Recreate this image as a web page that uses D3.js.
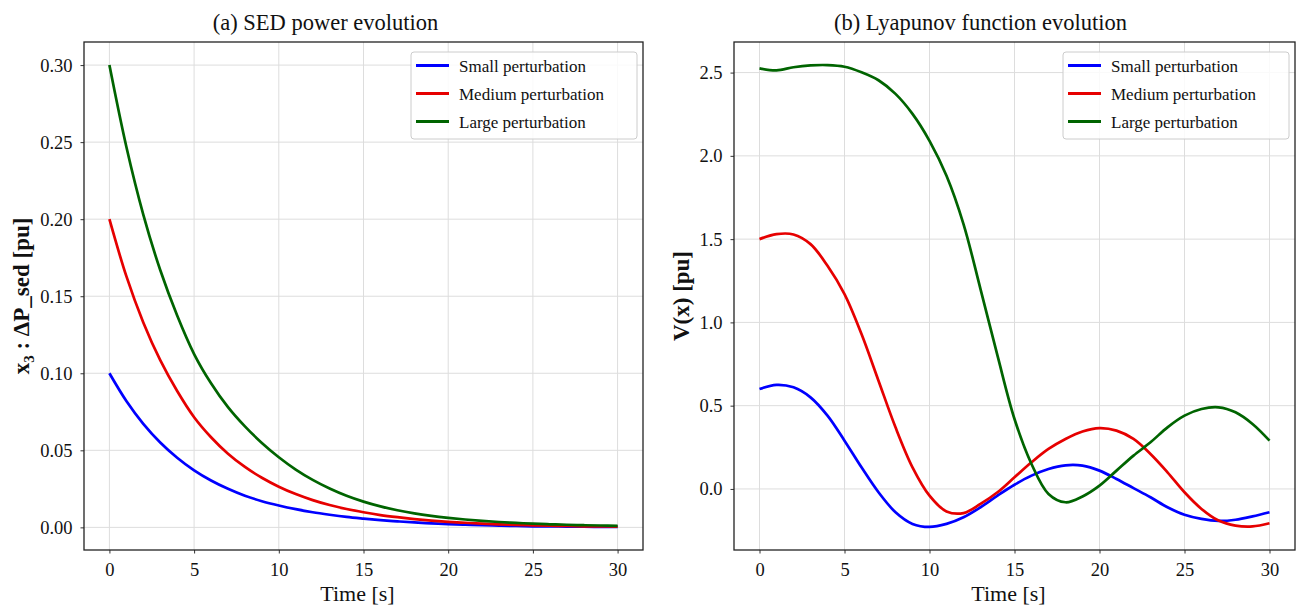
<!DOCTYPE html>
<html>
<head>
<meta charset="utf-8">
<script src="https://cdn.jsdelivr.net/npm/d3@7"></script>
<style>
  body { margin: 0; background: #fff; }
</style>
</head>
<body>
<div id="chart"></div>
<script>
// time axis shared by both panels [s]
const time = d3.range(0, 31);

// (a) SED power evolution, x3 : dP_sed [pu]
const sedSmall = [0.1000, 0.0820, 0.0672, 0.0551, 0.0452, 0.0370, 0.0304, 0.0250, 0.0205, 0.0170, 0.0142,
  0.0118, 0.0098, 0.0082, 0.0068, 0.0057, 0.0047, 0.0039, 0.0032, 0.0026, 0.0021,
  0.0017, 0.0014, 0.0011, 0.0009, 0.0007, 0.0006, 0.0005, 0.0004, 0.0003, 0.0003];
const sedMedium = [0.2000, 0.1630, 0.1330, 0.1085, 0.0885, 0.0715, 0.0585, 0.0478, 0.0392, 0.0322, 0.0264,
  0.0216, 0.0177, 0.0145, 0.0119, 0.0098, 0.0080, 0.0066, 0.0054, 0.0044, 0.0036,
  0.0030, 0.0024, 0.0020, 0.0016, 0.0013, 0.0011, 0.0009, 0.0007, 0.0006, 0.0005];
const sedLarge = [0.3000, 0.2470, 0.2030, 0.1670, 0.1375, 0.1125, 0.0935, 0.0780, 0.0655, 0.0548, 0.0455,
  0.0375, 0.0308, 0.0252, 0.0205, 0.0167, 0.0136, 0.0111, 0.0091, 0.0075, 0.0062,
  0.0051, 0.0042, 0.0035, 0.0029, 0.0024, 0.0020, 0.0017, 0.0014, 0.0012, 0.0010];

// (b) Lyapunov function evolution, V(x) [pu]
const lyaSmall = [0.600, 0.625, 0.610, 0.550, 0.440, 0.290, 0.130, -0.020, -0.140, -0.210, -0.228,
  -0.210, -0.170, -0.110, -0.040, 0.025, 0.080, 0.120, 0.142, 0.140, 0.110,
  0.060, 0.005, -0.050, -0.110, -0.155, -0.180, -0.192, -0.185, -0.165, -0.140];
const lyaMedium = [1.500, 1.530, 1.528, 1.470, 1.340, 1.170, 0.930, 0.650, 0.370, 0.130, -0.040,
  -0.135, -0.145, -0.090, -0.020, 0.070, 0.160, 0.240, 0.300, 0.345, 0.365,
  0.350, 0.300, 0.210, 0.100, -0.020, -0.120, -0.190, -0.220, -0.225, -0.206];
const lyaLarge = [2.525, 2.513, 2.532, 2.543, 2.545, 2.535, 2.502, 2.454, 2.372, 2.252, 2.090,
  1.880, 1.590, 1.200, 0.800, 0.420, 0.150, -0.030, -0.080, -0.045, 0.020,
  0.110, 0.200, 0.280, 0.370, 0.440, 0.480, 0.490, 0.460, 0.390, 0.290];

const seriesNames = ["Small perturbation", "Medium perturbation", "Large perturbation"];
const seriesColors = ["#0000ff", "#e60000", "#006400"];

const xTicks = [0, 5, 10, 15, 20, 25, 30];
const yTicksA = [0.00, 0.05, 0.10, 0.15, 0.20, 0.25, 0.30];
const yTicksB = [0.0, 0.5, 1.0, 1.5, 2.0, 2.5];

const W = 1298, H = 609;
const plotTop = 42, plotBottom = 550;
const font = "'Liberation Serif', 'Times New Roman', serif";

const svg = d3.select("#chart")
  .append("svg")
  .attr("width", W)
  .attr("height", H)
  .style("background", "#fff");

// matplotlib style 5% padding around the data
function padded(values) {
  const [lo, hi] = d3.extent(values);
  const m = (hi - lo) * 0.05;
  return [lo - m, hi + m];
}

function drawPanel(cfg) {
  const g = svg.append("g");

  const x = d3.scaleLinear().domain(padded(time)).range([cfg.left, cfg.right]);
  const y = d3.scaleLinear().domain(padded(cfg.series.flat())).range([plotBottom, plotTop]);

  // grid
  g.selectAll(".vgrid")
    .data(xTicks)
    .join("line")
    .attr("x1", d => x(d)).attr("x2", d => x(d))
    .attr("y1", plotTop).attr("y2", plotBottom)
    .attr("stroke", "#dddddd").attr("stroke-width", 1);

  g.selectAll(".hgrid")
    .data(cfg.yTicks)
    .join("line")
    .attr("x1", cfg.left).attr("x2", cfg.right)
    .attr("y1", d => y(d)).attr("y2", d => y(d))
    .attr("stroke", "#dddddd").attr("stroke-width", 1);

  // curves
  const line = d3.line()
    .x((d, i) => x(time[i]))
    .y(d => y(d))
    .curve(d3.curveCatmullRom.alpha(0.5));

  cfg.series.forEach((vals, i) => {
    g.append("path")
      .datum(vals)
      .attr("fill", "none")
      .attr("stroke", seriesColors[i])
      .attr("stroke-width", 2.7)
      .attr("stroke-linejoin", "round")
      .attr("d", line);
  });

  // axes
  const xAxis = g.append("g")
    .attr("transform", `translate(0,${plotBottom})`)
    .call(d3.axisBottom(x).tickValues(xTicks).tickSize(3.5).tickPadding(9).tickFormat(d3.format("d")));
  const yAxis = g.append("g")
    .attr("transform", `translate(${cfg.left},0)`)
    .call(d3.axisLeft(y).tickValues(cfg.yTicks).tickSize(3.5).tickPadding(8).tickFormat(d3.format(cfg.fmt)));

  [xAxis, yAxis].forEach(a => {
    a.attr("font-family", font).attr("font-size", 18.5);
    a.select(".domain").remove();
    a.selectAll(".tick line").attr("stroke", "#333");
    a.selectAll(".tick text").attr("fill", "#111");
  });

  // frame
  g.append("rect")
    .attr("x", cfg.left).attr("y", plotTop)
    .attr("width", cfg.right - cfg.left).attr("height", plotBottom - plotTop)
    .attr("fill", "none").attr("stroke", "#222").attr("stroke-width", 1.3);

  // title & labels
  g.append("text")
    .attr("x", (cfg.left + cfg.right) / 2 - cfg.titleShift)
    .attr("y", 30)
    .attr("text-anchor", "middle")
    .attr("font-family", font)
    .attr("font-size", 22.5)
    .attr("fill", "#111")
    .text(cfg.title);

  g.append("text")
    .attr("x", (cfg.left + cfg.right) / 2 - 6)
    .attr("y", 601)
    .attr("text-anchor", "middle")
    .attr("font-family", font)
    .attr("font-size", 22)
    .attr("fill", "#111")
    .text("Time [s]");

  const yl = g.append("text")
    .attr("transform", `translate(${cfg.ylabelX},${(plotTop + plotBottom) / 2}) rotate(-90)`)
    .attr("text-anchor", "middle")
    .attr("font-family", font)
    .attr("font-size", 23)
    .attr("font-weight", "bold")
    .attr("fill", "#111");
  cfg.ylabel(yl);

  // legend
  const lw = 226, lh = 87;
  const lx = cfg.right - 6 - lw, ly = plotTop + 10;
  const leg = g.append("g").attr("transform", `translate(${lx},${ly})`);
  leg.append("rect")
    .attr("width", lw).attr("height", lh)
    .attr("rx", 3)
    .attr("fill", "#fff").attr("fill-opacity", 0.85)
    .attr("stroke", "#cccccc").attr("stroke-width", 1);

  const rows = leg.selectAll(".row")
    .data(seriesNames)
    .join("g")
    .attr("transform", (d, i) => `translate(0,${13.5 + i * 28})`);
  rows.append("line")
    .attr("x1", 5).attr("x2", 38)
    .attr("stroke", (d, i) => seriesColors[i])
    .attr("stroke-width", 3);
  rows.append("text")
    .attr("x", 48)
    .attr("y", 6)
    .attr("font-family", font)
    .attr("font-size", 17)
    .attr("fill", "#111")
    .text(d => d);
}

drawPanel({
  left: 84, right: 643,
  series: [sedSmall, sedMedium, sedLarge],
  yTicks: yTicksA, fmt: ".2f",
  title: "(a) SED power evolution",
  titleShift: 38,
  ylabelX: 29,
  ylabel: t => {
    t.append("tspan").text("x");
    t.append("tspan").attr("font-size", 15).attr("dy", 5).text("3");
    t.append("tspan").attr("dy", -5).text(" : ΔP_sed [pu]");
  }
});

drawPanel({
  left: 734, right: 1295,
  series: [lyaSmall, lyaMedium, lyaLarge],
  yTicks: yTicksB, fmt: ".1f",
  title: "(b) Lyapunov function evolution",
  titleShift: 34,
  ylabelX: 689,
  ylabel: t => t.text("V(x) [pu]")
});
</script>
</body>
</html>
